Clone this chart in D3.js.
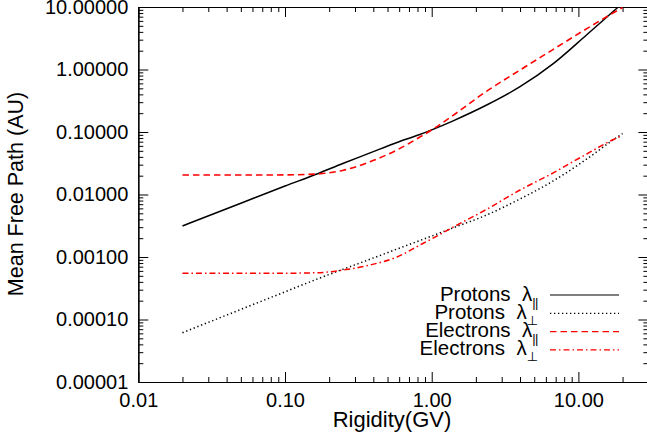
<!DOCTYPE html>
<html>
<head>
<meta charset="utf-8">
<script src="https://cdn.jsdelivr.net/npm/d3@7"></script>
<style>
    body { margin: 0; padding: 0; background: #fff; }
    text { font-family: 'Liberation Sans', Arial, sans-serif; fill: #000; }
</style>
</head>
<body>
<div id="main"></div>
<script>
// rigidity (GV) sample points shared by all curves
const rigidity = [0.02, 0.05, 0.1, 0.165, 0.25, 0.38, 0.58, 0.83, 1.0, 1.4, 2.37, 4.0, 6.74, 11.4, 18.7, 20];

// mean free paths (AU)
const protonsPar = [0.00314, 0.00726, 0.01366, 0.0213, 0.0316, 0.0463, 0.0681, 0.091, 0.108, 0.151, 0.27, 0.53, 1.24, 3.6, 10.0, 11.5];
const protonsPerp = [6.15e-5, 1.45e-4, 2.77e-4, 4.42e-4, 6.4e-4, 9.2e-4, 1.34e-3, 1.835e-3, 2.16e-3, 2.93e-3, 4.7e-3, 8.5e-3, 0.0165, 0.037, 0.085, 0.094];
const electronsPar = [0.0205, 0.0205, 0.0206, 0.0213, 0.0244, 0.0335, 0.0516, 0.083, 0.108, 0.185, 0.45, 0.98, 2.1, 4.5, 8.96, 9.8];
const electronsPerp = [5.48e-4, 5.48e-4, 5.5e-4, 5.6e-4, 6.2e-4, 7.45e-4, 1.0e-3, 1.55e-3, 1.95e-3, 3.0e-3, 5.8e-3, 0.0118, 0.0222, 0.0445, 0.082, 0.087];

const seriesNames = ['Protons', 'Protons', 'Electrons', 'Electrons'];
const seriesSubs = ['||', '\u22A5', '||', '\u22A5'];

const xTickValues = [0.01, 0.1, 1, 10];
const yTickValues = [1e-5, 1e-4, 1e-3, 1e-2, 1e-1, 1, 10];

const WIDTH = 647, HEIGHT = 447;
const LEFT = 138.3, RIGHT = 648.4, TOP = 7, BOTTOM = 382;

const svg = d3.select('#main').append('svg')
    .attr('width', WIDTH)
    .attr('height', HEIGHT);

const scaleX = d3.scaleLog().domain([0.01, 30]).range([LEFT, RIGHT]);
const scaleY = d3.scaleLog().domain([1e-5, 10]).range([BOTTOM, TOP]);

// minor ticks 2..9 per decade
const minorTicks = (scale) => scale.ticks().filter((t) => {
    const m = t / Math.pow(10, Math.floor(Math.log10(t) + 1e-9));
    return Math.abs(m - 1) > 1e-6;
});
const xMinor = minorTicks(scaleX);
const yMinor = minorTicks(scaleY);

const styleAxis = (g) => {
    g.select('.domain').attr('stroke', '#000').attr('stroke-width', 1.2);
    g.selectAll('.tick line').attr('stroke', '#000').attr('stroke-width', 1);
    g.selectAll('.tick text').attr('font-size', 20).attr('font-family', "'Liberation Sans', Arial, sans-serif");
};

// bottom
svg.append('g').attr('transform', `translate(0,${BOTTOM})`)
    .call(d3.axisBottom(scaleX).tickValues(xTickValues).tickFormat(d3.format('.2f')).tickSize(-10).tickSizeOuter(0).tickPadding(11))
    .call(styleAxis);
svg.append('g').attr('transform', `translate(0,${BOTTOM})`)
    .call(d3.axisBottom(scaleX).tickValues(xMinor).tickFormat('').tickSize(-5).tickSizeOuter(0))
    .call(styleAxis);
// top
svg.append('g').attr('transform', `translate(0,${TOP})`)
    .call(d3.axisTop(scaleX).tickValues(xTickValues).tickFormat('').tickSize(-10).tickSizeOuter(0))
    .call(styleAxis);
svg.append('g').attr('transform', `translate(0,${TOP})`)
    .call(d3.axisTop(scaleX).tickValues(xMinor).tickFormat('').tickSize(-5).tickSizeOuter(0))
    .call(styleAxis);
// left
svg.append('g').attr('transform', `translate(${LEFT},0)`)
    .call(d3.axisLeft(scaleY).tickValues(yTickValues).tickFormat(d3.format('.5f')).tickSize(-10).tickSizeOuter(0).tickPadding(10))
    .call(styleAxis);
svg.append('g').attr('transform', `translate(${LEFT},0)`)
    .call(d3.axisLeft(scaleY).tickValues(yMinor).tickFormat('').tickSize(-5).tickSizeOuter(0))
    .call(styleAxis);
// right
svg.append('g').attr('transform', `translate(${RIGHT},0)`)
    .call(d3.axisRight(scaleY).tickValues(yTickValues).tickFormat('').tickSize(-10).tickSizeOuter(0))
    .call(styleAxis);
svg.append('g').attr('transform', `translate(${RIGHT},0)`)
    .call(d3.axisRight(scaleY).tickValues(yMinor).tickFormat('').tickSize(-5).tickSizeOuter(0))
    .call(styleAxis);

// axis titles
svg.append('text')
    .text('Rigidity(GV)')
    .attr('x', 392)
    .attr('y', 427)
    .attr('text-anchor', 'middle')
    .attr('font-size', 22);
svg.append('text')
    .text('Mean Free Path (AU)')
    .attr('transform', 'translate(23,194) rotate(-90)')
    .attr('text-anchor', 'middle')
    .attr('font-size', 21.5);

// curves
svg.append('clipPath').attr('id', 'plot-clip')
    .append('rect')
    .attr('x', LEFT).attr('y', TOP)
    .attr('width', RIGHT - LEFT).attr('height', BOTTOM - TOP);

const series = [
    { values: protonsPar, color: '#000', dash: null, width: 1.5 },
    { values: protonsPerp, color: '#000', dash: '1.3,2.7', width: 1.5 },
    { values: electronsPar, color: '#ff0000', dash: '6.5,4', width: 1.6 },
    { values: electronsPerp, color: '#ff0000', dash: '6,3,1.5,3', width: 1.5 }
];

const lineGen = d3.line()
    .x((d) => scaleX(d[0]))
    .y((d) => scaleY(d[1]))
    .curve(d3.curveMonotoneX);

const curves = svg.append('g').attr('clip-path', 'url(#plot-clip)');
series.forEach((s) => {
    curves.append('path')
        .datum(rigidity.map((r, i) => [r, s.values[i]]))
        .attr('d', lineGen)
        .attr('fill', 'none')
        .attr('stroke', s.color)
        .attr('stroke-width', s.width)
        .attr('stroke-dasharray', s.dash);
});

// legend
const legend = svg.append('g');
series.forEach((s, i) => {
    const yLine = 295 + i * 18.3;
    const row = legend.append('text')
        .attr('x', 538)
        .attr('y', yLine + 5.5)
        .attr('text-anchor', 'end')
        .attr('font-size', 20.5);
    row.append('tspan').text(seriesNames[i] + '\u00A0\u00A0\u03BB');
    row.append('tspan')
        .text(seriesSubs[i])
        .attr('font-size', 13)
        .attr('dy', 6)
        .attr('letter-spacing', i % 2 === 0 ? -0.5 : 0)
        .attr('font-family', i % 2 === 0 ? "'Liberation Sans', Arial, sans-serif" : "'DejaVu Sans', sans-serif");
    legend.append('line')
        .attr('x1', 550).attr('x2', 619)
        .attr('y1', yLine).attr('y2', yLine)
        .attr('stroke', s.color)
        .attr('stroke-width', 1.2)
        .attr('stroke-dasharray', s.dash);
});
</script>
</body>
</html>
